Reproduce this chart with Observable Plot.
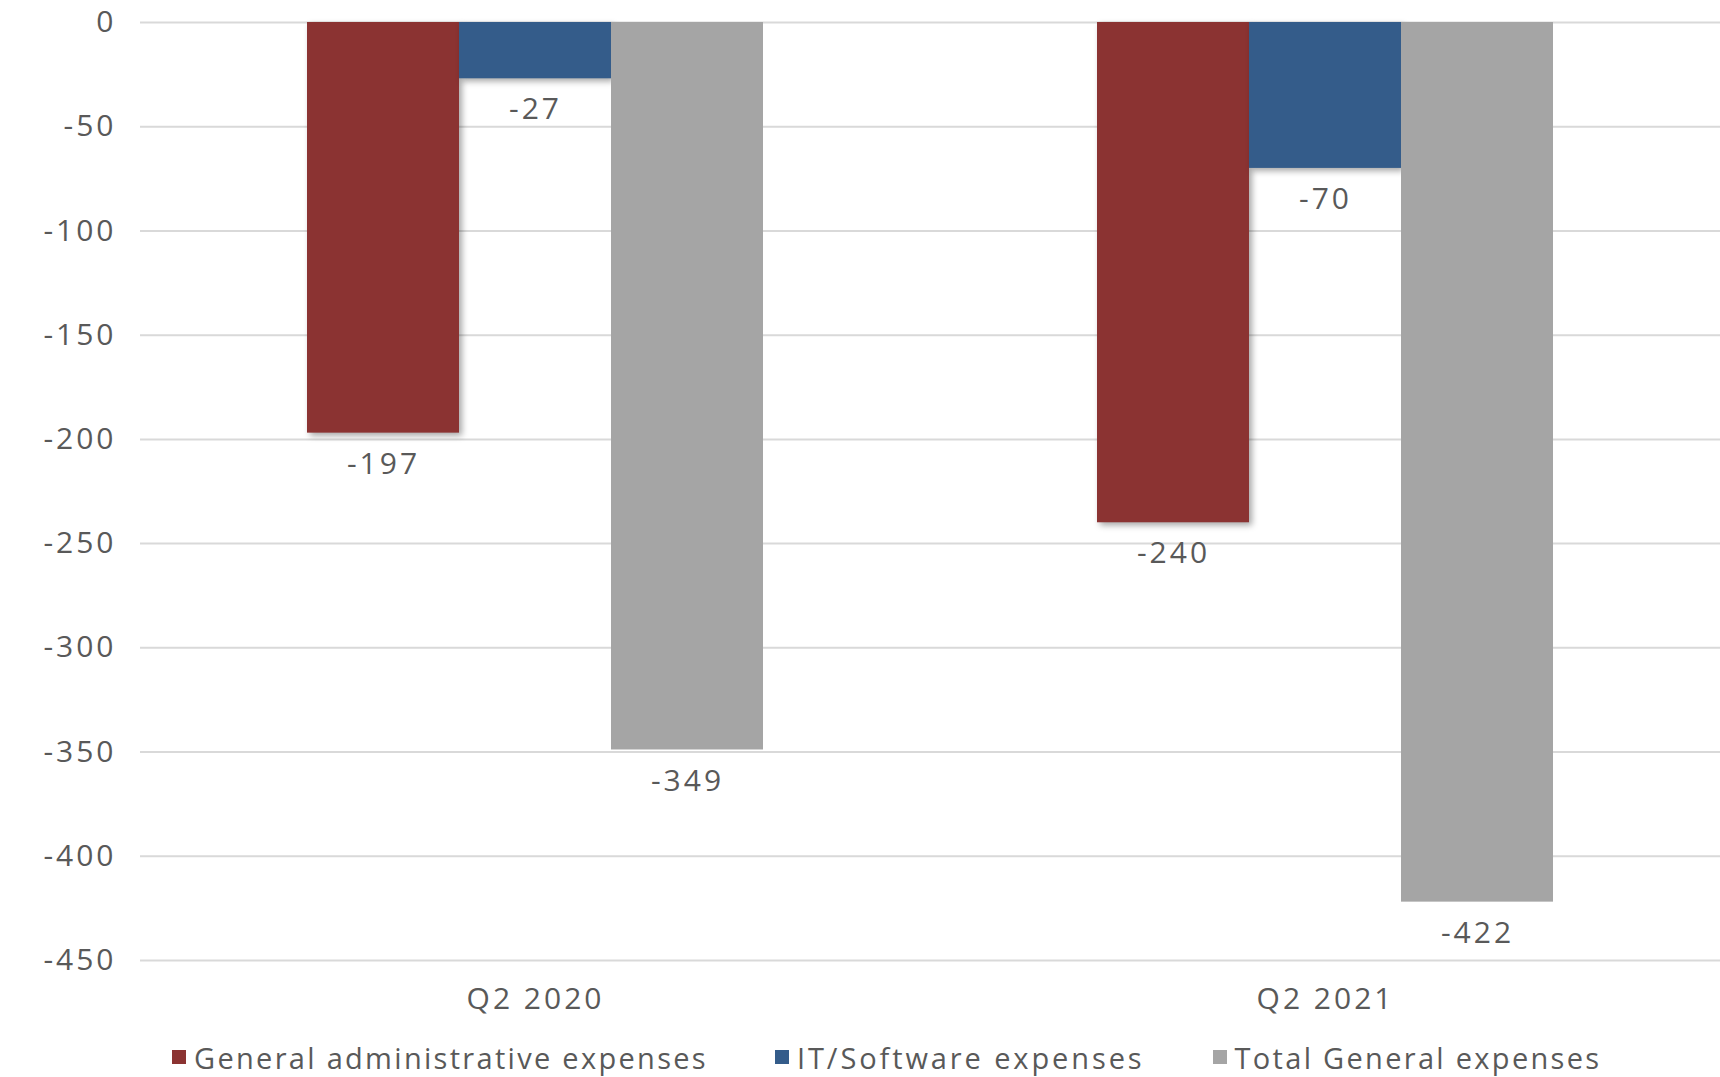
<!DOCTYPE html>
<html>
<head>
<meta charset="utf-8">
<script src="https://cdn.jsdelivr.net/npm/d3@7"></script>
<script src="https://cdn.jsdelivr.net/npm/@observablehq/plot@0.6"></script>
<style>
  html, body { margin: 0; padding: 0; background: #fff; }
  #wrap { position: relative; width: 1720px; height: 1077px; overflow: hidden; font-family: "Open Sans", sans-serif; }
  #legend { position: absolute; left: 172px; top: 1038px; height: 38px; display: flex; align-items: center; }
  .lg-item { display: inline-flex; align-items: center; margin-right: 67px; font-size: 29px; color: #595959; letter-spacing: 2.3px; white-space: nowrap; }
  .lg-item.wide { letter-spacing: 2.9px; margin-right: 68px; }
  .lg-item svg { margin-right: 8px; }
  svg rect.shadowed { filter: drop-shadow(3px 3px 3px rgba(0,0,0,0.35)); }
</style>
</head>
<body>
<div id="wrap"><div id="chart"></div><div id="legend"></div></div>
<script>
const categories = ["Q2 2020", "Q2 2021"];
const series = ["General administrative expenses", "IT/Software expenses", "Total General expenses"];
const generalAdmin = [-197, -240];
const itSoftware = [-27, -70];
const totalGeneral = [-349, -422];
const colors = ["#8B3332", "#345C8A", "#A5A5A5"];
const yTicks = [0, -50, -100, -150, -200, -250, -300, -350, -400, -450];

const valuesBySeries = [generalAdmin, itSoftware, totalGeneral];
const data = [];
categories.forEach((c, i) => {
  series.forEach((s, j) => data.push({cat: c, series: s, value: valuesBySeries[j][i]}));
});

const fmt = d => String(d);

const chart = Plot.plot({
  width: 1720,
  height: 1030,
  marginLeft: 140,
  marginRight: 0,
  marginTop: 22,
  marginBottom: 70,
  style: {fontFamily: "'Open Sans', sans-serif", fontSize: "30px", color: "#595959", background: "#fff", letterSpacing: "3px"},
  fx: {domain: categories, padding: 0, label: null, tickSize: 0, tickPadding: 27, axis: "bottom"},
  x: {domain: series, paddingInner: 0, paddingOuter: 1.09, axis: null},
  y: {domain: [-450, 0], ticks: yTicks, tickFormat: fmt, tickSize: 0, tickPadding: 24, label: null},
  color: {domain: series, range: colors},
  marks: [
    Plot.ruleY(yTicks, {stroke: "#D9D9D9", strokeWidth: 2}),
    Plot.barY(data, {fx: "cat", x: "series", y: "value", fill: "series"}),
    Plot.text(data, {fx: "cat", x: "series", y: "value", text: d => fmt(d.value), dy: 31, lineAnchor: "middle", textAnchor: "middle", fill: "#595959", fontSize: 30})
  ]
});
document.getElementById("chart").appendChild(chart);

// subtle drop shadow on the first two series, as in the reference
chart.querySelectorAll("rect").forEach(r => {
  const f = (r.getAttribute("fill") || "").toLowerCase();
  if (f === colors[0].toLowerCase() || f === colors[1].toLowerCase()) r.classList.add("shadowed");
});

// legend
const leg = document.getElementById("legend");
series.forEach((s, i) => {
  const item = document.createElement("span");
  item.className = "lg-item" + (i === 1 ? " wide" : "");
  item.innerHTML = `<svg width="14" height="14"><rect width="14" height="14" fill="${colors[i]}"></rect></svg>`;
  item.appendChild(document.createTextNode(s));
  leg.appendChild(item);
});
</script>
</body>
</html>
